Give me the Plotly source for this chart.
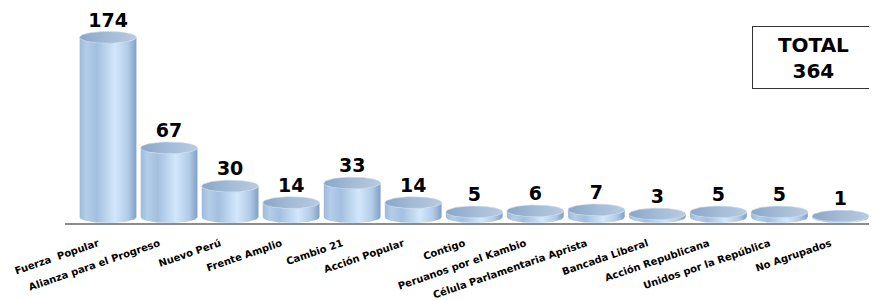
import numpy as np
import plotly.graph_objects as go

categories = ["Fuerza  Popular", "Alianza para el Progreso", "Nuevo Perú", "Frente Amplio",
              "Cambio 21", "Acción Popular", "Contigo", "Peruanos por el Kambio",
              "Célula Parlamentaria Aprista", "Bancada Liberal", "Acción Republicana",
              "Unidos por la República", "No Agrupados"]
seats = [174, 67, 30, 14, 33, 14, 5, 6, 7, 3, 5, 5, 1]
total_label = "TOTAL<br>364"

HW = 0.465   # half bar width (category units)
RY = 5.7     # ellipse vertical radius (value units)
YMAX = 202.4

body_scale = [[0, "#9cbadc"], [0.12, "#b3cde9"], [0.3, "#a4c0df"], [0.62, "#d2e7fb"],
              [0.85, "#b2cbe7"], [1, "#809fc5"]]
top_scale = [[0, "#8aa6c8"], [0.5, "#a3bbd6"], [1, "#b8cbe0"]]

fig = go.Figure()
t_bot = np.linspace(np.pi, 2 * np.pi, 40)
t_top = np.linspace(2 * np.pi, np.pi, 40)
t_full = np.linspace(0, 2 * np.pi, 80)
for i, v in enumerate(seats):
    xs = np.concatenate([i + HW * np.cos(t_bot), [i + HW], i + HW * np.cos(t_top), [i - HW]])
    ys = np.concatenate([RY * np.sin(t_bot), [v], v + RY * np.sin(t_top), [0]])
    fig.add_trace(go.Scatter(x=xs, y=ys, fill="toself", mode="lines",
                             line=dict(width=0, color="rgba(0,0,0,0)"),
                             fillgradient=dict(type="horizontal", colorscale=body_scale),
                             hoverinfo="skip", showlegend=False))
    fig.add_trace(go.Scatter(x=i + HW * np.cos(t_full), y=v + RY * np.sin(t_full),
                             fill="toself", mode="lines",
                             line=dict(width=0.6, color="#c9d8ea"),
                             fillgradient=dict(type="horizontal", colorscale=top_scale),
                             hoverinfo="skip", showlegend=False))

fig.add_trace(go.Scatter(x=list(range(len(seats))), y=[v + RY for v in seats],
                         mode="text", text=[str(v) for v in seats],
                         textposition="top center",
                         textfont=dict(family="DejaVu Sans", size=19, color="#000000", weight="bold"),
                         hoverinfo="skip", showlegend=False))

fig.add_annotation(text=total_label, xref="paper", yref="paper", x=1.005, y=0.914,
                   xanchor="right", yanchor="top", showarrow=False,
                   font=dict(family="DejaVu Sans", size=20, color="#000000", weight="bold"),
                   bordercolor="#333333", borderwidth=1, bgcolor="white",
                   width=119, height=59, align="center")

fig.update_layout(
    width=869, height=292,
    margin=dict(l=57, r=6, t=0, b=72),
    paper_bgcolor="white", plot_bgcolor="white",
    xaxis=dict(range=[-0.705, 12.5], tickvals=list(range(len(categories))), ticktext=categories,
               tickangle=-19, showgrid=False, zeroline=False, showline=True,
               linecolor="#8c8c8c", linewidth=2, ticks="",
               tickfont=dict(family="DejaVu Sans", size=10, color="#000000", weight="bold"),
               ticklabelshift=-10, ticklabelstandoff=9),
    yaxis=dict(range=[-RY, YMAX], visible=False, showgrid=False, zeroline=False),
)
fig.write_html("out.html")
